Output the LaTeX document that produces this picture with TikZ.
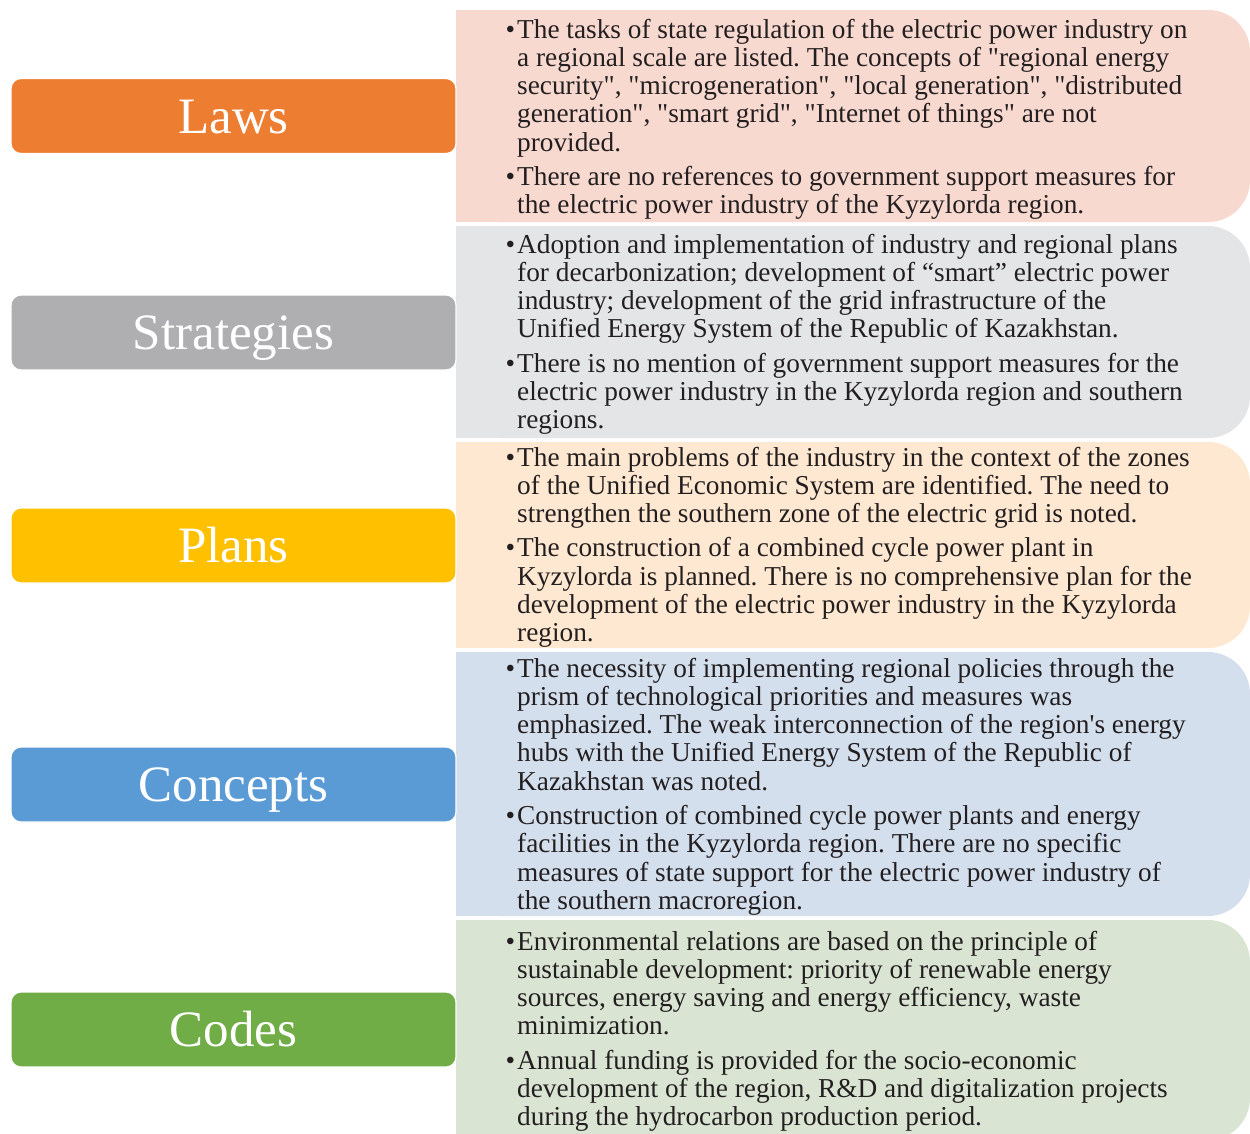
\documentclass[tikz,border=0pt]{standalone}
\usepackage{fontspec}
\setmainfont[Ligatures=TeXOff]{Liberation Serif}
\definecolor{lawsL}{HTML}{ED7D31}
\definecolor{lawsP}{HTML}{F8D9D0}
\definecolor{stratL}{HTML}{AFAFB1}
\definecolor{stratP}{HTML}{E4E5E7}
\definecolor{plansL}{HTML}{FFC000}
\definecolor{plansP}{HTML}{FFE8D1}
\definecolor{concL}{HTML}{5B9BD5}
\definecolor{concP}{HTML}{D4DFEE}
\definecolor{codesL}{HTML}{70AD47}
\definecolor{codesP}{HTML}{D9E4D3}
\definecolor{txt}{HTML}{231F20}
\newcommand\bul{\leavevmode\llap{•\hspace{2pt}}}
\newcommand\mypanel[3]{%
  \fill[#1, rounded corners=42pt] (456,#2) -- (1250,#2) -- (1250,#3) -- (456,#3) -- cycle;
  \fill[#1] (456,#2) rectangle (700,#3);}
\begin{document}
\frenchspacing
\begin{tikzpicture}[x=1pt,y=-1pt,
  lbl/.style={rounded corners=10pt, draw=white, line width=1.2pt, minimum width=445pt,
    minimum height=75pt, inner sep=0pt, text=white,
    font=\fontsize{51}{51}\selectfont, text height=34pt, text depth=0pt},
  body/.style={anchor=base west, inner sep=0pt, text=txt,
    font=\fontsize{27.3}{28.3}\selectfont\frenchspacing}]
\useasboundingbox (0,0) rectangle (1250,1133);

\mypanel{lawsP}{10}{222}
\mypanel{stratP}{226}{438}
\mypanel{plansP}{442}{648}
\mypanel{concP}{652}{916}
\mypanel{codesP}{920}{1140}

\node[lbl, fill=lawsL]  (laws)  at (233.5,116)   {Laws};
\node[lbl, fill=stratL] (strat) at (233.5,332.5) {Strategies};
\node[lbl, fill=plansL] (plans) at (233.5,545.5) {Plans};
\node[lbl, fill=concL]  (conc)  at (233.5,784.5) {Concepts};
\node[lbl, fill=codesL] (codes) at (233.5,1029.5){Codes};

\node[body] (tlaws) at (517,38) {\parbox[t]{730pt}{\setlength{\parskip}{6pt}%
\bul The tasks of state regulation of the electric power industry on\\
a regional scale are listed. The concepts of "regional energy\\
security", "microgeneration", "local generation", "distributed\\
generation", "smart grid", "Internet of things" are not\\
provided.\par
\bul There are no references to government support measures for\\
the electric power industry of the Kyzylorda region.}};

\node[body] (tstrat) at (517,253) {\parbox[t]{730pt}{\setlength{\parskip}{6pt}%
\bul Adoption and implementation of industry and regional plans\\
for decarbonization; development of “smart” electric power\\
industry; development of the grid infrastructure of the\\
Unified Energy System of the Republic of Kazakhstan.\par
\bul There is no mention of government support measures for the\\
electric power industry in the Kyzylorda region and southern\\
regions.}};

\node[body] (tplans) at (517,466) {\parbox[t]{730pt}{\setlength{\parskip}{6pt}%
\bul The main problems of the industry in the context of the zones\\
of the Unified Economic System are identified. The need to\\
strengthen the southern zone of the electric grid is noted.\par
\bul The construction of a combined cycle power plant in\\
Kyzylorda is planned. There is no comprehensive plan for the\\
development of the electric power industry in the Kyzylorda\\
region.}};

\node[body] (tconc) at (517,677) {\parbox[t]{730pt}{\setlength{\parskip}{6pt}%
\bul The necessity of implementing regional policies through the\\
prism of technological priorities and measures was\\
emphasized. The weak interconnection of the region's energy\\
hubs with the Unified Energy System of the Republic of\\
Kazakhstan was noted.\par
\bul Construction of combined cycle power plants and energy\\
facilities in the Kyzylorda region. There are no specific\\
measures of state support for the electric power industry of\\
the southern macroregion.}};

\node[body] (tcodes) at (517,950) {\parbox[t]{730pt}{\setlength{\parskip}{6pt}%
\bul Environmental relations are based on the principle of\\
sustainable development: priority of renewable energy\\
sources, energy saving and energy efficiency, waste\\
minimization.\par
\bul Annual funding is provided for the socio-economic\\
development of the region, R\&D and digitalization projects\\
during the hydrocarbon production period.}};
\end{tikzpicture}
\end{document}
